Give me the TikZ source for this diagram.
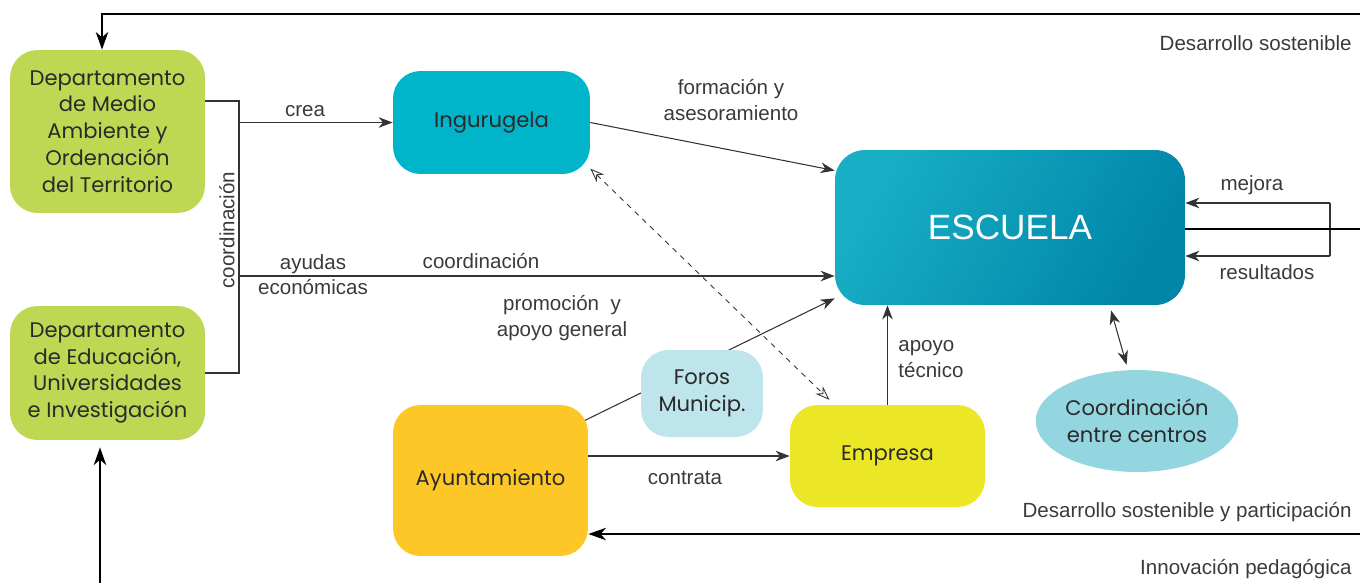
\documentclass[tikz,border=0pt]{standalone}
\usepackage{fontspec}
\setmainfont{Liberation Sans}
\newfontfamily\boxfont{Poppins}
\usetikzlibrary{arrows.meta,shapes.geometric,calc,backgrounds}
\definecolor{verde}{HTML}{BFD854}
\definecolor{ingu}{HTML}{00B5CA}
\definecolor{escA}{HTML}{18AEC5}
\definecolor{escB}{HTML}{0086A9}
\definecolor{foros}{HTML}{BEE4EC}
\definecolor{ayunt}{HTML}{FDC827}
\definecolor{empresa}{HTML}{ECE726}
\definecolor{coordc}{HTML}{94D6E0}
\definecolor{boxtext}{HTML}{2A2A2A}
\definecolor{lbltext}{HTML}{3A3A3A}
\definecolor{linegray}{HTML}{333333}
\begin{document}
\begin{tikzpicture}[x=0.02cm, y=-0.02cm,
    box/.style = {rounded corners=0.55cm, inner sep=0pt, align=center, text=boxtext,
        font=\boxfont\fontsize{12}{15.3}\selectfont},
    lbl/.style = {inner sep=0pt, align=center, text=lbltext, font=\fontsize{11.7}{14.5}\selectfont},
    flow/.style = {draw=linegray, line width=0.6pt, -{Stealth[length=8pt,width=6pt,inset=2.5pt]}},
    bigflow/.style = {draw=black, line width=1.6pt, -{Stealth[length=10pt,width=7pt,inset=3pt]}}]
    \useasboundingbox (0,0) rectangle (1360,583);

    \node[box, fill=verde, minimum width=3.9cm, minimum height=3.26cm] (dma) at (107.5,131.5)
        {Departamento\\de Medio\\Ambiente y\\Ordenación\\del Territorio};
    \node[box, fill=verde, minimum width=3.9cm, minimum height=2.68cm] (dedu) at (107.5,373)
        {Departamento\\de Educación,\\Universidades\\e Investigación};
    \node[box, fill=ingu, minimum width=3.94cm, minimum height=2.06cm] (ing) at (491.5,122.5) {Ingurugela};
    \node[box, rounded corners=0.6cm, left color=escA, right color=escB, shading angle=60,
        minimum width=7cm, minimum height=3.1cm, text=white, font=\fontsize{20}{24}\selectfont] (esc) at (1010,227.5) {ESCUELA};
    \node[box, fill=foros, minimum width=2.44cm, minimum height=1.74cm] (foros) at (702,393.5) {Foros\\Municip.};
    \node[box, fill=ayunt, minimum width=3.9cm, minimum height=3.02cm] (ayu) at (490.5,480.5) {Ayuntamiento};
    \node[box, fill=empresa, minimum width=3.9cm, minimum height=2.04cm] (emp) at (887.5,456) {Empresa};
    \node[box, ellipse, fill=coordc, minimum width=3.8cm, minimum height=2.04cm] (coord) at (1137,421)
        {Coordinación\\entre centros};

    % departamentos
    \coordinate (bt) at (239,101);
    \coordinate (bb) at (239,373);
    \coordinate (ay) at (239,276);
    \draw[linegray, line width=0.6pt] (dma.east |- bt) -- (bt) -- (bb) -- (dedu.east |- bb);
    \draw[flow] (bt |- ing.west) -- (ing.west);
    \draw[flow] (ay) -- (esc.west |- ay);
    \node[lbl, rotate=90] (lcoord1) at (227,230) {coordinación};
    \node[lbl] (lcrea) at (305,111) {crea};
    \node[lbl] (layud) at (313,274.5) {ayudas\\económicas};
    \node[lbl] (lcoord2) at (481,261) {coordinación};

    \draw[flow] (ing.east) -- (esc.162);
    \node[lbl] (lform) at (731,100) {formación y\\asesoramiento};
    \draw[draw=linegray, line width=0.5pt, dashed, {Stealth[open,length=8pt,width=6pt]}-{Stealth[open,length=8pt,width=6pt]},
        shorten >=4pt] (ing.-25) -- (emp.136);

    \begin{scope}[on background layer]
        \draw[flow] ($(ayu.center)!0.5!(ayu.north east)$) -- (esc.202);
    \end{scope}
    \node[lbl] (lprom) at (562,318) {promoción\ \ y\\apoyo general};

    \draw[flow] (ayu.east |- emp.west) -- (emp.west);
    \node[lbl] (lcontr) at (685,478) {contrata};
    \draw[flow] (emp.north) -- (emp.north |- esc.south);
    \node[lbl, anchor=west, align=left] (lapoyo) at (898,359) {apoyo\\técnico};

    \draw[draw=linegray, line width=0.6pt, {Stealth[length=8pt,width=6pt,inset=2.5pt]}-{Stealth[length=8pt,width=6pt,inset=2.5pt]},
        shorten <=3pt, shorten >=3pt] (esc.-38) -- (coord.100);

    % resultados / mejora
    \coordinate (rt) at (1330,203);
    \coordinate (rb) at (1330,256);
    \coordinate (eout) at (1360,229);
    \draw[linegray, line width=0.6pt] (rt) -- (rb);
    \draw[flow] (rt) -- (esc.east |- rt);
    \draw[flow] (rb) -- (esc.east |- rb);
    \draw[black, line width=1.6pt] (esc.east |- eout) -- (eout);
    \node[lbl] (lmej) at (1252,185) {mejora};
    \node[lbl] (lres) at (1267,272) {resultados};

    % flujos exteriores
    \coordinate (tr) at (1360,14);
    \coordinate (br) at (1360,534);
    \coordinate (bl) at (100,583);
    \coordinate (tl) at (102,14);
    \draw[bigflow] (tr) -- (tl) -- (tl |- dma.north);
    \draw[bigflow] (br) -- (ayu.east |- br);
    \draw[bigflow, shorten >=4pt] (bl) -- (bl |- dedu.south);
    \node[lbl, anchor=east] (ldes1) at (1352,43) {Desarrollo sostenible};
    \node[lbl, anchor=east] (ldes2) at (1352,512) {Desarrollo sostenible y participación};
    \node[lbl, anchor=east] (linno) at (1352,569) {Innovación pedagógica};
\end{tikzpicture}
\end{document}
